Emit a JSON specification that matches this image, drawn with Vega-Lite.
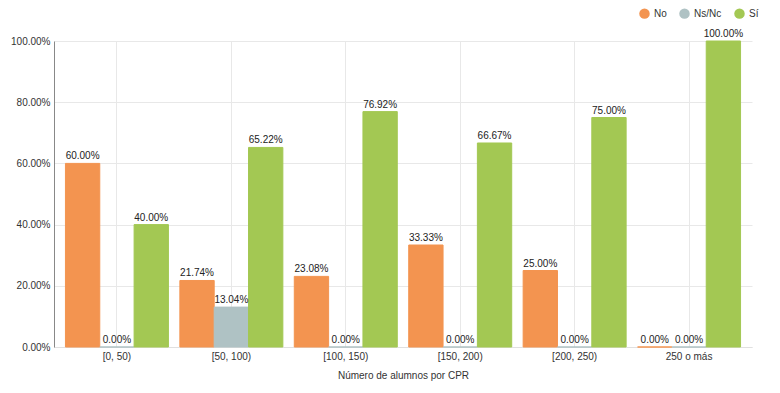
{
  "$schema": "https://vega.github.io/schema/vega-lite/v6.json",
  "width": 698,
  "height": 306,
  "autosize": {"type": "none"},
  "padding": {"left": 54, "top": 41, "right": 28, "bottom": 46},
  "background": "white",
  "config": {
    "view": {"stroke": null},
    "font": "Liberation Sans",
    "axis": {"labelFontSize": 10, "labelColor": "#333", "titleFontSize": 10, "titleFontWeight": "normal", "titleColor": "#333", "gridColor": "#e8e8e8", "domainColor": "#e0e0e0", "ticks": false, "labelOverlap": false}
  },
  "data": {
    "values": [
      {"cat": "[0, 50)", "serie": "No", "v": 0.60},
      {"cat": "[0, 50)", "serie": "Ns/Nc", "v": 0.0},
      {"cat": "[0, 50)", "serie": "Sí", "v": 0.40},
      {"cat": "[50, 100)", "serie": "No", "v": 0.2174},
      {"cat": "[50, 100)", "serie": "Ns/Nc", "v": 0.1304},
      {"cat": "[50, 100)", "serie": "Sí", "v": 0.6522},
      {"cat": "[100, 150)", "serie": "No", "v": 0.2308},
      {"cat": "[100, 150)", "serie": "Ns/Nc", "v": 0.0},
      {"cat": "[100, 150)", "serie": "Sí", "v": 0.7692},
      {"cat": "[150, 200)", "serie": "No", "v": 0.3333},
      {"cat": "[150, 200)", "serie": "Ns/Nc", "v": 0.0},
      {"cat": "[150, 200)", "serie": "Sí", "v": 0.6667},
      {"cat": "[200, 250)", "serie": "No", "v": 0.25},
      {"cat": "[200, 250)", "serie": "Ns/Nc", "v": 0.0},
      {"cat": "[200, 250)", "serie": "Sí", "v": 0.75},
      {"cat": "250 o más", "serie": "No", "v": 0.0},
      {"cat": "250 o más", "serie": "Ns/Nc", "v": 0.0},
      {"cat": "250 o más", "serie": "Sí", "v": 1.0}
    ]
  },
  "encoding": {
    "x": {
      "field": "cat", "type": "nominal", "sort": null,
      "title": "Número de alumnos por CPR",
      "scale": {"paddingInner": 0.1, "paddingOuter": 0.1},
      "axis": {"labelAngle": 0, "grid": true, "titlePadding": 9, "labelPadding": 4}
    },
    "xOffset": {"field": "serie", "type": "nominal", "sort": ["No", "Ns/Nc", "Sí"], "scale": {"paddingInner": 0, "paddingOuter": 0}},
    "y": {
      "field": "v", "type": "quantitative",
      "scale": {"domain": [0, 1], "nice": false},
      "axis": {"format": ".2%", "values": [0, 0.2, 0.4, 0.6, 0.8, 1.0], "title": null, "domainColor": "#888", "labelPadding": 4, "grid": true}
    }
  },
  "layer": [
    {
      "mark": {"type": "bar", "strokeWidth": 1},
      "encoding": {
        "color": {
          "field": "serie", "type": "nominal", "sort": ["No", "Ns/Nc", "Sí"],
          "scale": {"domain": ["No", "Ns/Nc", "Sí"], "range": ["#f39450", "#afc2c4", "#a3c853"]},
          "legend": {"orient": "none", "legendX": 585, "legendY": -33, "direction": "horizontal", "title": null, "symbolType": "circle", "symbolSize": 110, "symbolOpacity": 1, "labelFontSize": 10, "labelColor": "#333", "columnPadding": 12, "symbolStrokeWidth": 0}
        },
        "stroke": {"field": "serie", "type": "nominal", "scale": {"domain": ["No", "Ns/Nc", "Sí"], "range": ["#f39450", "#afc2c4", "#a3c853"]}, "legend": null}
      }
    },
    {
      "mark": {"type": "text", "dy": -7, "fontSize": 10, "color": "#222"},
      "encoding": {
        "text": {"field": "v", "type": "quantitative", "format": ".2%"}
      }
    }
  ]
}
